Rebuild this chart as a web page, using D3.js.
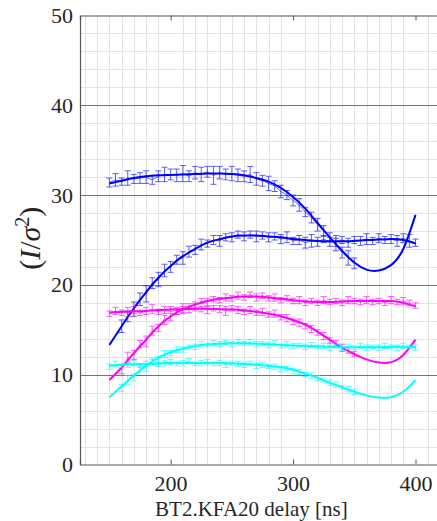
<!DOCTYPE html>
<html>
<head>
<meta charset="utf-8">
<script src="https://cdn.jsdelivr.net/npm/d3@7"></script>
<style>
  body { margin: 0; background: #fff; }
  svg text { font-family: "Liberation Serif", "Times New Roman", "DejaVu Serif", serif; fill: #262626; }
</style>
</head>
<body>
<div id="main"></div>
<script>
// x positions of the fitted curves (ns)
const fitX = [150,160,170,180,190,200,210,220,230,240,250,260,270,280,290,300,310,320,330,340,350,360,370,380,390,400];
// x positions of measured points
const xFlat = [150,155,160,165,170,175,180,185,190,195,200,205,210,215,220,225,230,235,240,245,250,255,260,265,270,275,280,285,290,295,300,305,310,315,320,325,330,335,340,345,350];
const xRise = [160,165,170,175,180,185,190,195,200,205,210,215,220,225,230,235,240,245,250,255,260,265,270,275,280,285,290,295,300,305,310,315,320,325,330,335,340,345,350,355,360,365,370,375,380,385,390,395,400];

// fitted curves
const fitBlueFlat = [31.3,31.6,31.9,32.1,32.2,32.25,32.3,32.35,32.4,32.4,32.35,32.2,31.9,31.5,30.8,29.8,28.5,26.9,25.3,23.8,22.5,21.7,21.6,22.2,24.0,27.8];
const fitBlueRise = [13.3,15.4,17.4,19.2,20.8,22.1,23.2,24.0,24.7,25.1,25.4,25.5,25.5,25.4,25.3,25.1,25.0,24.9,24.85,24.85,24.9,25.0,25.05,25.1,25.0,24.6];
const fitMagFlat  = [16.9,17.0,17.05,17.1,17.2,17.25,17.3,17.35,17.35,17.3,17.25,17.15,17.0,16.8,16.5,16.1,15.6,14.8,13.9,13.0,12.3,11.7,11.35,11.4,12.2,13.9];
const fitMagRise  = [9.4,10.8,12.4,13.9,15.4,16.5,17.3,17.8,18.2,18.45,18.6,18.7,18.7,18.6,18.45,18.3,18.15,18.1,18.1,18.15,18.2,18.2,18.2,18.2,18.0,17.6];
const fitCyanFlat = [11.0,11.1,11.15,11.2,11.25,11.3,11.3,11.3,11.3,11.3,11.25,11.2,11.1,11.0,10.85,10.55,10.15,9.65,9.1,8.6,8.1,7.7,7.45,7.5,8.1,9.4];
const fitCyanRise = [7.5,8.7,9.9,11.0,11.9,12.5,12.9,13.2,13.35,13.45,13.5,13.5,13.45,13.4,13.3,13.25,13.2,13.15,13.1,13.05,13.05,13.05,13.05,13.1,13.1,13.05];

// measured points
const dataBlueFlat = [31.4,31.7,31.5,31.9,31.8,31.9,32.0,31.7,32.1,32.3,32.3,32.2,32.4,32.1,32.5,32.3,32.6,32.2,32.5,32.3,32.4,32.2,32.1,32.3,31.8,31.6,31.3,31.0,30.4,30.0,29.4,28.9,28.1,27.5,26.7,26.0,25.3,24.5,23.6,23.0,22.4];
const errBlueFlat  = [0.5,0.7,0.4,0.8,0.5,0.6,0.7,0.5,0.6,0.8,0.6,0.7,0.9,0.6,0.7,0.8,0.6,1.0,0.7,0.6,0.8,0.7,0.6,0.9,0.7,0.6,0.8,0.6,0.7,0.5,0.6,0.7,0.5,0.6,0.7,0.6,0.5,0.7,0.6,0.8,0.6];
const dataBlueRise = [15.4,16.5,17.3,18.4,19.0,20.2,20.6,21.6,22.0,22.8,23.0,23.7,23.9,24.5,24.6,25.0,24.9,25.3,25.3,25.6,25.4,25.6,25.4,25.5,25.3,25.4,25.1,25.3,24.9,25.0,24.7,24.9,24.8,25.1,24.8,24.9,25.0,24.7,25.0,24.9,25.1,24.9,25.2,25.0,25.1,24.9,25.2,24.9,24.7];
const errBlueRise  = [0.7,0.6,0.8,0.7,0.9,0.6,0.8,0.7,0.6,0.5,0.7,0.6,0.5,0.6,0.4,0.5,0.6,0.4,0.5,0.4,0.5,0.4,0.6,0.4,0.5,0.4,0.5,0.6,0.4,0.5,0.6,0.7,0.5,0.4,0.5,0.6,0.4,0.5,0.4,0.5,0.6,0.4,0.5,0.4,0.5,0.6,0.5,0.7,0.4];
const dataMagFlat  = [16.8,17.1,16.9,17.0,17.2,16.9,17.1,17.3,17.0,17.2,17.3,17.1,17.4,17.2,17.5,17.3,17.2,17.4,17.3,17.1,17.4,17.2,17.0,17.2,16.9,17.0,16.7,16.8,16.4,16.3,15.9,15.8,15.4,15.1,14.7,14.3,13.8,13.5,13.0,12.7,12.3];
const errMagFlat   = [0.3,0.4,0.3,0.5,0.4,0.3,0.4,0.5,0.3,0.4,0.3,0.4,0.5,0.3,0.4,0.3,0.4,0.3,0.4,0.5,0.3,0.4,0.3,0.4,0.3,0.4,0.3,0.4,0.3,0.4,0.3,0.4,0.3,0.4,0.3,0.4,0.3,0.3,0.4,0.3,0.3];
const dataMagRise  = [10.6,11.9,12.2,13.4,13.7,14.9,15.2,16.1,16.4,17.0,17.2,17.6,17.7,18.2,18.1,18.4,18.3,18.6,18.5,18.8,18.6,18.9,18.6,18.8,18.5,18.6,18.3,18.5,18.2,18.3,18.0,18.2,18.0,18.3,18.1,18.2,18.0,18.3,18.2,18.1,18.3,18.1,18.2,18.0,18.3,18.1,18.2,18.0,17.7];
const errMagRise   = [0.5,0.6,0.5,0.4,0.6,0.5,0.4,0.5,0.4,0.3,0.4,0.3,0.4,0.3,0.4,0.3,0.3,0.4,0.3,0.4,0.3,0.3,0.4,0.3,0.3,0.4,0.3,0.3,0.3,0.4,0.3,0.3,0.3,0.4,0.3,0.3,0.3,0.4,0.3,0.3,0.4,0.3,0.3,0.3,0.4,0.3,0.4,0.3,0.3];
const dataCyanFlat = [10.9,11.2,11.0,11.1,11.3,11.0,11.2,11.4,11.1,11.3,11.4,11.2,11.3,11.5,11.2,11.3,11.4,11.2,11.3,11.1,11.3,11.2,11.1,11.3,11.0,11.1,10.9,10.9,10.6,10.7,10.4,10.3,10.0,9.9,9.6,9.4,9.1,8.9,8.6,8.4,8.1];
const errCyanFlat  = [0.3,0.3,0.2,0.3,0.3,0.2,0.3,0.3,0.2,0.3,0.3,0.2,0.3,0.3,0.2,0.3,0.3,0.2,0.3,0.3,0.2,0.3,0.3,0.2,0.3,0.3,0.2,0.3,0.3,0.2,0.3,0.3,0.2,0.3,0.3,0.2,0.3,0.3,0.2,0.3,0.3];
const dataCyanRise = [8.5,9.4,9.7,10.6,10.8,11.6,11.7,12.3,12.4,12.8,12.8,13.1,13.1,13.4,13.3,13.5,13.4,13.6,13.4,13.6,13.5,13.6,13.4,13.5,13.3,13.5,13.2,13.4,13.2,13.3,13.1,13.3,13.1,13.2,13.0,13.2,13.0,13.1,13.0,13.2,13.0,13.1,13.0,13.2,13.1,13.0,13.2,13.1,13.0];
const errCyanRise  = [0.4,0.5,0.4,0.3,0.4,0.3,0.3,0.4,0.3,0.3,0.3,0.2,0.3,0.3,0.2,0.3,0.3,0.2,0.3,0.3,0.2,0.3,0.3,0.2,0.3,0.3,0.2,0.3,0.3,0.2,0.3,0.3,0.2,0.3,0.3,0.2,0.3,0.3,0.2,0.3,0.3,0.2,0.3,0.3,0.2,0.3,0.3,0.2,0.3];

const xTicks = [200, 300, 400];
const yTicks = [0, 10, 20, 30, 40, 50];

const series = [
  {color: '#0000ff', x: xFlat, y: dataBlueFlat, e: errBlueFlat, fit: fitBlueFlat},
  {color: '#0000ff', x: xRise, y: dataBlueRise, e: errBlueRise, fit: fitBlueRise},
  {color: '#ff00ff', x: xFlat, y: dataMagFlat,  e: errMagFlat,  fit: fitMagFlat},
  {color: '#ff00ff', x: xRise, y: dataMagRise,  e: errMagRise,  fit: fitMagRise},
  {color: '#00ffff', x: xFlat, y: dataCyanFlat, e: errCyanFlat, fit: fitCyanFlat},
  {color: '#00ffff', x: xRise, y: dataCyanRise, e: errCyanRise, fit: fitCyanRise}
];

const W = 437, H = 521;
const serif = '"Liberation Serif", "Times New Roman", serif';
const svg = d3.select('#main').append('svg').attr('width', W).attr('height', H);

let x = d3.scaleLinear().domain([126, 420]).range([80, 440]);
let y = d3.scaleLinear().domain([0, 50]).range([464.5, 15.5]);

// minor grid
let grid = svg.append('g').attr('class', 'grid');
grid.selectAll('line.vx').data(d3.range(130, 421, 10).filter(v => v % 100 !== 0)).join('line')
  .attr('x1', d => Math.round(x(d)) + 0.5).attr('x2', d => Math.round(x(d)) + 0.5)
  .attr('y1', y(50)).attr('y2', y(0))
  .style('stroke', '#e3e3e3').style('stroke-width', 1);
grid.selectAll('line.hy').data(d3.range(2, 50, 2).filter(v => v % 10 !== 0)).join('line')
  .attr('x1', 80).attr('x2', W)
  .attr('y1', d => Math.round(y(d)) + 0.5).attr('y2', d => Math.round(y(d)) + 0.5)
  .style('stroke', '#e3e3e3').style('stroke-width', 1);
// major horizontal grid
grid.selectAll('line.my').data([10, 20, 30, 40]).join('line')
  .attr('x1', 80).attr('x2', W)
  .attr('y1', d => Math.round(y(d)) + 0.5).attr('y2', d => Math.round(y(d)) + 0.5)
  .style('stroke', '#737373').style('stroke-width', 1);

// axes
let xAxis = svg.append('g').attr('transform', `translate(0, ${y(0)})`)
  .call(d3.axisBottom(x).tickValues(xTicks).tickSize(-5).tickPadding(12));
let xAxisTop = svg.append('g').attr('transform', `translate(0, ${y(50)})`)
  .call(d3.axisTop(x).tickValues(xTicks).tickSize(-5).tickFormat(''));
let yAxis = svg.append('g').attr('transform', `translate(80, 0)`)
  .call(d3.axisLeft(y).tickValues(yTicks).tickSize(0).tickPadding(7));

[xAxis, xAxisTop, yAxis].forEach(a => {
  a.attr('font-family', serif);
  a.select('.domain').style('stroke', '#555').style('stroke-width', 1.2);
  a.selectAll('.tick line').style('stroke', '#555');
  a.selectAll('text').style('font-size', '22px').style('font-family', serif).style('fill', '#262626');
});
xAxis.selectAll('.tick text').attr('dy', '0.71em').attr('y', 11);

// error bars, data lines and fits
let plot = svg.append('g');
let dataLine = d3.line().x(d => x(d[0])).y(d => y(d[1]));
let fitLine = d3.line().x(d => x(d[0])).y(d => y(d[1])).curve(d3.curveNatural);

series.forEach(s => {
  let pts = s.x.map((v, i) => [v, s.y[i], s.e[i]]);
  let g = plot.append('g');
  g.append('path').datum(pts).attr('d', dataLine)
    .style('fill', 'none').style('stroke', s.color).style('stroke-width', 0.8).style('opacity', 0.75);
  let bars = g.selectAll('g.eb').data(pts).join('g').attr('class', 'eb')
    .style('stroke', s.color).style('stroke-width', 0.9).style('opacity', 0.7);
  bars.append('line').attr('x1', d => x(d[0])).attr('x2', d => x(d[0]))
    .attr('y1', d => y(d[1] - d[2])).attr('y2', d => y(d[1] + d[2]));
  bars.append('line').attr('x1', d => x(d[0]) - 3).attr('x2', d => x(d[0]) + 3)
    .attr('y1', d => y(d[1] + d[2])).attr('y2', d => y(d[1] + d[2]));
  bars.append('line').attr('x1', d => x(d[0]) - 3).attr('x2', d => x(d[0]) + 3)
    .attr('y1', d => y(d[1] - d[2])).attr('y2', d => y(d[1] - d[2]));
  g.append('path').datum(fitX.map((v, i) => [v, s.fit[i]])).attr('d', fitLine)
    .style('fill', 'none').style('stroke', s.color).style('stroke-width', 2);
});

// axis titles
svg.append('text').attr('x', x(266)).attr('y', 516).attr('text-anchor', 'middle')
  .style('font-family', serif).style('font-size', '21px').text('BT2.KFA20 delay [ns]');

let yl = svg.append('text').attr('transform', `translate(40, ${y(25.2)}) rotate(-90)`)
  .attr('text-anchor', 'middle').style('font-family', serif).style('font-size', '30px');
yl.append('tspan').text('(');
yl.append('tspan').style('font-style', 'italic').text('I');
yl.append('tspan').text('/');
yl.append('tspan').style('font-style', 'italic').text('σ');
yl.append('tspan').attr('dy', -11).style('font-size', '20px').text('2');
yl.append('tspan').attr('dy', 11).text(')');
</script>
</body>
</html>
